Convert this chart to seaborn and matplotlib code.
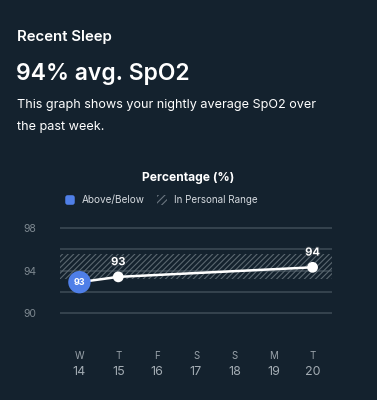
import matplotlib
matplotlib.use("Agg")
import matplotlib.pyplot as plt
import matplotlib.patheffects as pe
import matplotlib.transforms as mt
from matplotlib.patches import Rectangle, FancyBboxPatch
import seaborn as sns
import pandas as pd

# ---- data ----
day_letters = ["W", "T", "F", "S", "S", "M", "T"]
day_numbers = ["14", "15", "16", "17", "18", "19", "20"]
spo2_values = [92.9, 93.4, None, None, None, None, 94.3]
spo2_labels = ["93", "93", "", "", "", "", "94"]
outside_range = [True, False, False, False, False, False, False]
range_low, range_high = 93.2, 95.6
y_ticks = [90, 94, 98]
grid_values = [90, 92, 94, 96, 98]

BG = "#14222e"
sns.set_theme(style="dark")
plt.rcParams["font.family"] = ["Inter", "DejaVu Sans"]
plt.rcParams["hatch.linewidth"] = 0.8
plt.rcParams["hatch.color"] = "#5a6770"

fig = plt.figure(figsize=(3.77, 4.0), dpi=100, facecolor=BG)

# header texts
fig.text(17/377, 1-37/400, "Recent Sleep", color="white", fontsize=10.8, fontweight="semibold",
         va="center", ha="left")
fig.text(16/377, 1-74/400, "94% avg. SpO2", color="white", fontsize=16.5, fontweight="semibold",
         va="center", ha="left")
fig.text(17/377, 1-105/400, "This graph shows your nightly average SpO2 over",
         color="white", fontsize=9.1, va="center", ha="left")
fig.text(17/377, 1-127/400, "the past week.", color="white", fontsize=9.1, va="center", ha="left")

# chart title and legend
fig.text(188/377, 1-178/400, "Percentage (%)", color="white", fontsize=8.7,
         fontweight="bold", va="center", ha="center")
fig.patches.append(FancyBboxPatch((66/377, 1-204/400), 8/377, 8/400,
                                  boxstyle="round,pad=0.002,rounding_size=0.006",
                                  transform=fig.transFigure,
                                  facecolor="#4f7fe8", edgecolor="none", figure=fig))
fig.text(82/377, 1-200/400, "Above/Below", color="#d4d9de", fontsize=7.2, va="center", ha="left")
fig.patches.append(Rectangle((157/377, 1-205/400), 10/377, 10/400, transform=fig.transFigure,
                             facecolor="none", edgecolor="#6a7680", hatch="/////", lw=0, figure=fig))
fig.text(174/377, 1-200/400, "In Personal Range", color="#d4d9de", fontsize=7.1, va="center", ha="left")

# axes
ylo, yhi = 89.5, 98.5
ax = fig.add_axes([60/377, 1-318.3/400, 272/377, 95.6/400])
ax.set_facecolor(BG)
ax.set_xlim(-0.5, len(day_letters)-0.5)
ax.set_ylim(ylo, yhi)
for s in ax.spines.values():
    s.set_visible(False)

for g in grid_values:
    ax.axhline(g, color="#3b4954", lw=1.2, zorder=1)

ax.fill_between([-0.5, len(day_letters)-0.5], range_low, range_high,
                facecolor="none", edgecolor="#5a6770", hatch="//////", lw=0, zorder=2)

df = pd.DataFrame({"x": range(len(day_letters)), "v": spo2_values,
                   "lab": spo2_labels, "out": outside_range}).dropna()
sns.lineplot(data=df, x="x", y="v", ax=ax, color="white", lw=1.8, zorder=3)
inr = df[~df["out"]]
sns.scatterplot(data=inr, x="x", y="v", ax=ax, color="white", s=60, edgecolor="none", zorder=4)
outr = df[df["out"]]
sns.scatterplot(data=outr, x="x", y="v", ax=ax, color="#4f7fe8", s=260, edgecolor="none", zorder=5)
for _, r in outr.iterrows():
    ax.text(r["x"], r["v"], r["lab"], color="white", fontsize=6.5, fontweight="bold",
            ha="center", va="center", zorder=6)
for _, r in inr.iterrows():
    t = ax.annotate(r["lab"], (r["x"], r["v"]), xytext=(0, 7), textcoords="offset points",
                    color="white", fontsize=8, fontweight="bold", ha="center", va="bottom", zorder=6)
    t.set_path_effects([pe.withStroke(linewidth=1.5, foreground="#2a3640")])

ax.set_xlabel("")
ax.set_ylabel("")
ax.set_yticks(y_ticks)
ax.set_yticklabels([str(v) for v in y_ticks], color="#7d8890", fontsize=7.5)
ax.tick_params(axis="y", length=0, pad=17)
ax.set_xticks([])

trans = mt.blended_transform_factory(ax.transData, fig.transFigure)
for i, (l, n) in enumerate(zip(day_letters, day_numbers)):
    ax.text(i, 1-356/400, l, transform=trans, color="#99a2aa", fontsize=7, ha="center", va="center")
    ax.text(i, 1-372/400, n, transform=trans, color="#a3acb3", fontsize=9, ha="center", va="center")

fig.savefig("out.png", dpi=100, facecolor=BG)
